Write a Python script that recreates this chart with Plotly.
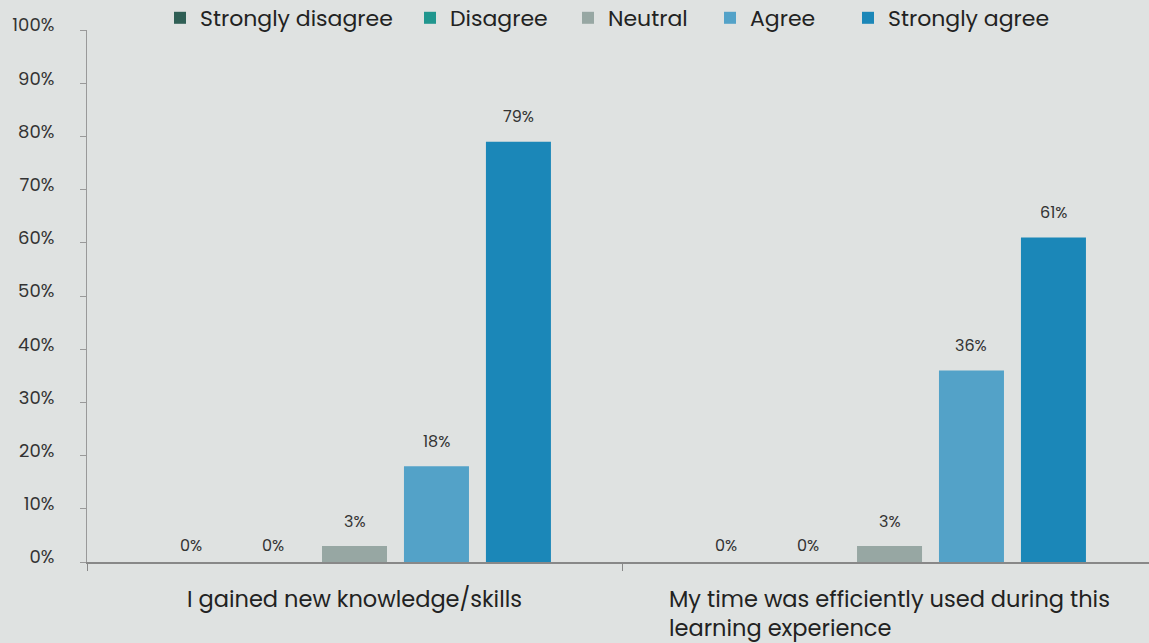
import plotly.graph_objects as go

# Survey results: share of respondents per answer, in percent
categories = [
    "I gained new knowledge/skills",
    "My time was efficiently used during this<br>learning experience",
]
responses = ["Strongly disagree", "Disagree", "Neutral", "Agree", "Strongly agree"]
strongly_disagree = [0, 0]
disagree = [0, 0]
neutral = [3, 3]
agree = [18, 36]
strongly_agree = [79, 61]
y_ticks = list(range(0, 101, 10))
y_tick_labels = [f"{t}%" for t in y_ticks]

series = [strongly_disagree, disagree, neutral, agree, strongly_agree]
colors = ["#2F5F55", "#20968E", "#97A7A3", "#53A2C8", "#1B87B8"]
# left edge (px) of each legend entry along the top row
legend_left_px = [160, 410, 568, 710, 848]
LEGEND_ROW_Y_PX = 18

W, H = 1149, 643
BG = "#DFE2E1"
FONT = "Poppins, Open Sans, sans-serif"
BARGAP = 0.234
BARGROUPGAP = 0.207

fig = go.Figure()
x_idx = list(range(len(categories)))
legend_layouts = {}
for k, (name, vals, col) in enumerate(zip(responses, series, colors)):
    lname = "legend" if k == 0 else f"legend{k + 1}"
    fig.add_trace(go.Bar(
        x=x_idx, y=vals, name=name, marker=dict(color=col, line=dict(width=0)),
        hoverinfo="skip", legend=lname,
    ))
    legend_layouts[lname] = dict(
        orientation="h", x=legend_left_px[k] / W, xanchor="left", xref="container",
        y=1 - LEGEND_ROW_Y_PX / H, yanchor="middle", yref="container",
        font=dict(family=FONT, size=22, color="#222222"),
        bgcolor="rgba(0,0,0,0)", borderwidth=0,
    )

# value labels above each bar
slot = (1 - BARGAP) / len(responses)
annotations = []
for k, vals in enumerate(series):
    for i, v in enumerate(vals):
        annotations.append(dict(
            x=i + (k - (len(responses) - 1) / 2) * slot, y=v, xref="x", yref="y",
            text=f"{v}%", showarrow=False, yanchor="middle",
            yshift=17 if v == 0 else 25,
            font=dict(family=FONT, size=16, color="#333333"),
        ))

# category labels under the axis, lines aligned left
for i, cat in enumerate(categories):
    annotations.append(dict(
        x=i, y=0, xref="x", yref="paper", text=cat, showarrow=False,
        xanchor="center", yanchor="top", align="left", yshift=-19,
        font=dict(family=FONT, size=22.5, color="#222222"),
    ))

fig.update_layout(
    width=W, height=H,
    margin=dict(l=87, r=0, t=30, b=81, autoexpand=False),
    paper_bgcolor=BG, plot_bgcolor=BG,
    barmode="group", bargap=BARGAP, bargroupgap=BARGROUPGAP,
    font=dict(family=FONT, color="#222222"),
    showlegend=True,
    annotations=annotations,
    xaxis=dict(
        type="linear", range=[-0.5, 1.485], showgrid=False, zeroline=False,
        showline=True, linecolor="#888888", linewidth=2,
        tickmode="array", tickvals=[-0.5, 0.5], ticks="outside", ticklen=7,
        tickcolor="#888888", showticklabels=False,
    ),
    yaxis=dict(
        range=[0, 100], tickmode="array", tickvals=y_ticks, ticktext=y_tick_labels,
        showgrid=False, zeroline=False,
        showline=True, linecolor="#999999", linewidth=1,
        ticks="outside", ticklen=6, tickcolor="#999999",
        ticklabelstandoff=22, ticklabelshift=-5,
        tickfont=dict(family=FONT, size=18, color="#333333"),
    ),
)
fig.update_layout(**legend_layouts)

fig.write_html("out.html")
